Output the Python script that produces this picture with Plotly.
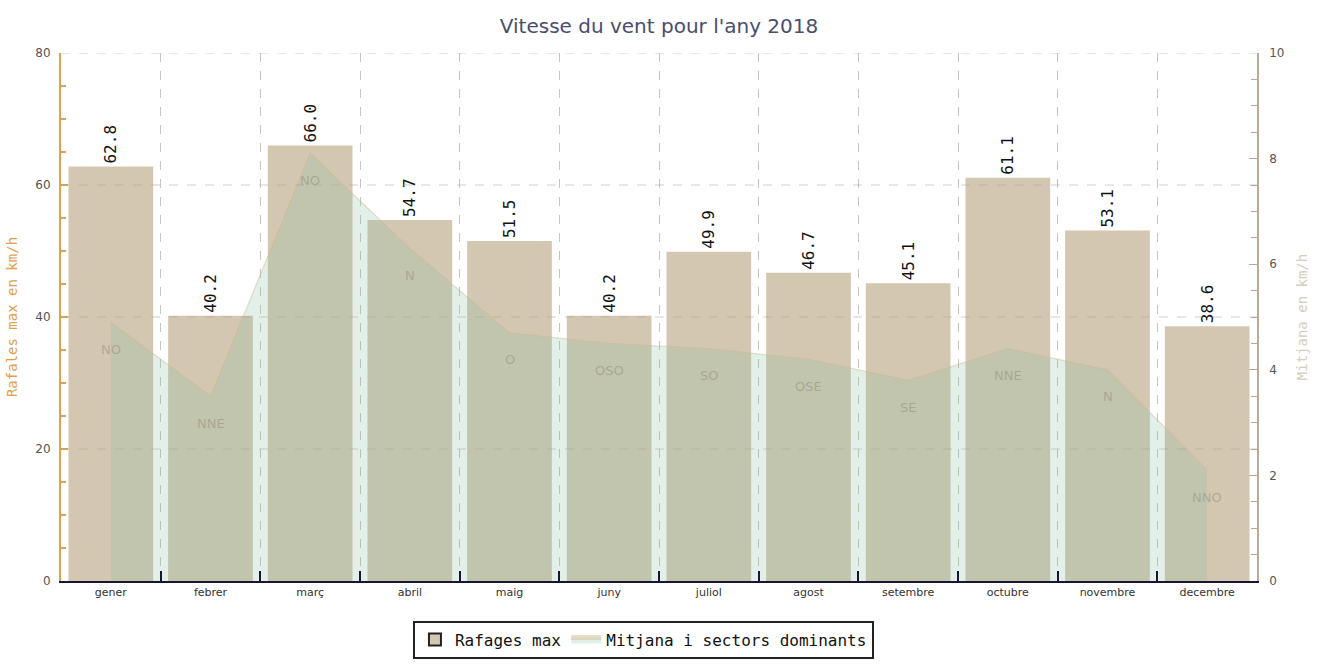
import plotly.graph_objects as go

months = ["gener", "febrer", "març", "abril", "maig", "juny", "juliol",
          "agost", "setembre", "octubre", "novembre", "decembre"]
gusts = [62.8, 40.2, 66.0, 54.7, 51.5, 40.2, 49.9, 46.7, 45.1, 61.1, 53.1, 38.6]
mean_speed = [4.9, 3.5, 8.1, 6.3, 4.7, 4.5, 4.4, 4.2, 3.8, 4.4, 4.0, 2.1]
sectors = ["NO", "NNE", "NO", "N", "O", "OSO", "SO", "OSE", "SE", "NNE", "N", "NNO"]
left_ticks = [0, 20, 40, 60, 80]
right_ticks = [0, 2, 4, 6, 8, 10]

BAR = "rgb(212,199,178)"
GREEN_FILL = "rgba(132,191,159,0.23)"
ORANGE = "#dea24e"
MONO = "DejaVu Sans Mono"

W, H = 1320, 671

fig = go.Figure()

fig.add_trace(go.Bar(
    x=months, y=gusts, name="Rafages max", showlegend=False,
    marker=dict(color=BAR, line=dict(width=0)),
    text=[f"{v:.1f}" for v in gusts], textposition="outside",
    textangle=-90, textfont=dict(family=MONO, size=16, color="#111"),
    cliponaxis=False, yaxis="y",
))

# legend-only swatch for bars
fig.add_trace(go.Scatter(
    x=[None], y=[None], mode="markers", name="Rafages max",
    marker=dict(symbol="square", size=15, color=BAR,
                line=dict(color="#222", width=1.5)),
    yaxis="y",
))

fig.add_trace(go.Scatter(
    x=months, y=mean_speed, name="Mitjana i sectors dominants",
    mode="lines", fill="tozeroy", fillcolor=GREEN_FILL,
    line=dict(color="rgba(205,185,140,0.45)", width=1.2),
    yaxis="y2",
))

for m, v, s in zip(months, mean_speed, sectors):
    fig.add_annotation(x=m, y=v, yref="y2", text=s, showarrow=False,
                       yshift=-27, font=dict(family="DejaVu Sans", size=13,
                                             color="rgba(150,148,125,0.6)"))

# horizontal dashed grid drawn above the marks
for t in left_ticks[1:]:
    fig.add_shape(type="line", xref="paper", x0=0, x1=1, yref="y", y0=t, y1=t,
                  line=dict(color="rgba(170,160,150,0.5)", width=1, dash="dash"),
                  layer="above")

fig.update_layout(
    width=W, height=H,
    margin=dict(l=61, r=57, t=53, b=88),
    paper_bgcolor="white", plot_bgcolor="white",
    title=dict(text="Vitesse du vent pour l'any 2018", x=0.5, xanchor="center",
               xref="paper", yref="container", y=1 - 26 / H, yanchor="middle",
               font=dict(family="DejaVu Sans", size=20, color="#4a4e6e")),
    bargap=0.15,
    showlegend=True,
    legend=dict(orientation="h", x=0.487, xanchor="center", y=-0.075, yanchor="top",
                bordercolor="#222", borderwidth=2, bgcolor="white",
                font=dict(family=MONO, size=16, color="#111"),
                itemsizing="constant"),
    xaxis=dict(
        type="category", range=[-0.5, 11.5], tickson="boundaries",
        showgrid=True, gridcolor="rgba(195,190,185,0.9)", griddash="dash",
        ticks="inside", ticklen=10, tickwidth=2, tickcolor="#1c1530",
        showline=True, linecolor="#1c1530", linewidth=2,
        tickfont=dict(family="DejaVu Sans", size=11, color="#333"),
    ),
    yaxis=dict(
        range=[0, 80], tickvals=left_ticks, showgrid=False, zeroline=False,
        showline=True, linecolor=ORANGE, linewidth=2,
        ticks="inside", ticklen=7, tickcolor=ORANGE, tickwidth=1.5,
        minor=dict(dtick=5, ticks="inside", ticklen=5, tickcolor=ORANGE),
        tickfont=dict(family="DejaVu Sans", size=12, color="#555"),
        ticklabelstandoff=6,
        title=dict(text="Rafales max en km/h", standoff=14,
                   font=dict(family=MONO, size=14, color=ORANGE)),
    ),
    yaxis2=dict(
        range=[0, 10], tickvals=right_ticks, overlaying="y", side="right",
        showgrid=False, zeroline=False,
        showline=True, linecolor="#b9ab95", linewidth=1.5,
        ticks="inside", ticklen=8, tickcolor="#b9ab95",
        minor=dict(dtick=0.5, ticks="inside", ticklen=6, tickcolor="#b9ab95"),
        tickfont=dict(family="DejaVu Sans", size=12, color="#555"),
        ticklabelstandoff=8,
        title=dict(text="Mitjana en km/h", standoff=14,
                   font=dict(family=MONO, size=14, color="#d6cdbd")),
    ),
)

fig.write_html(
    "out.html",
    config={"displayModeBar": False},
    post_script="document.body.style.margin='0';document.body.style.overflow='hidden';",
)
